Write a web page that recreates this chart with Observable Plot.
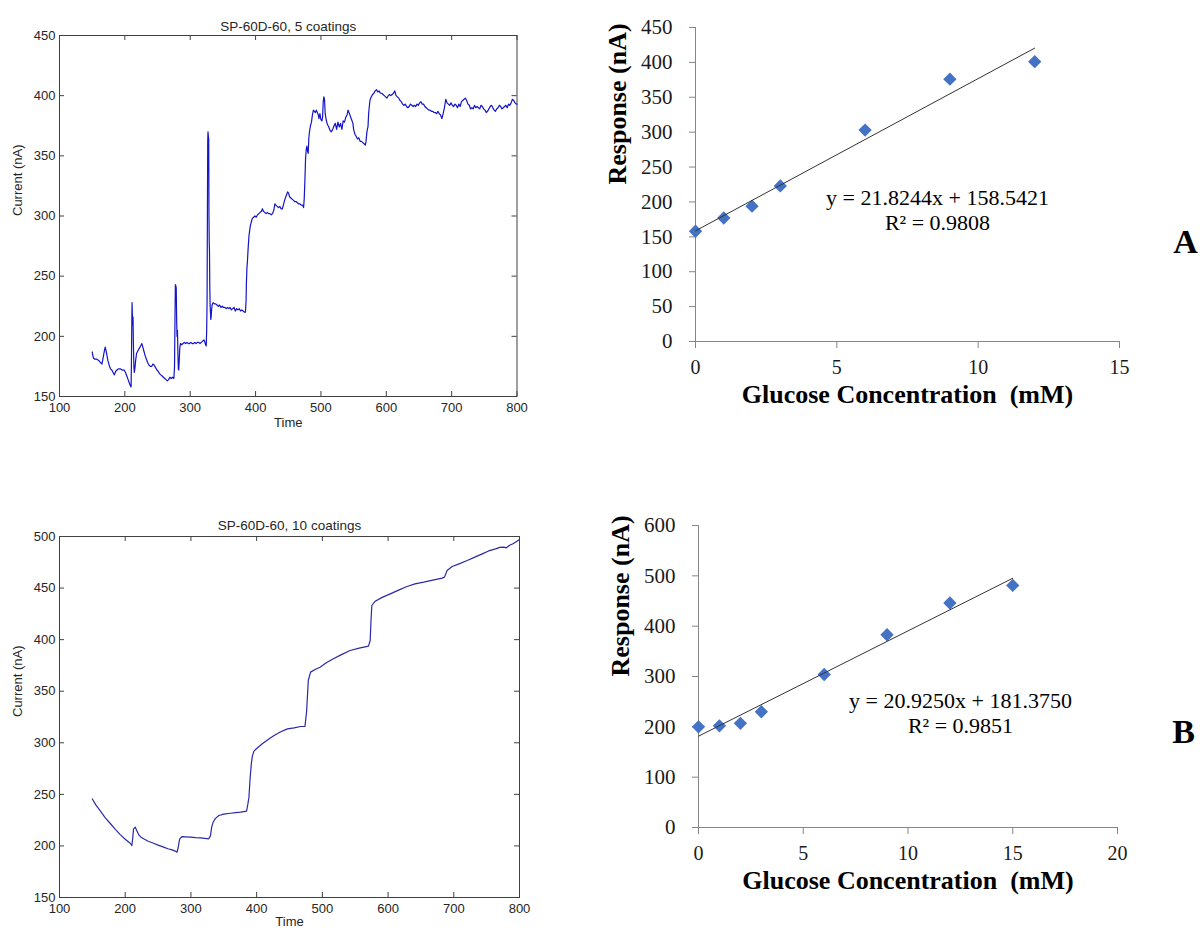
<!DOCTYPE html>
<html><head><meta charset="utf-8">
<script src="https://cdn.jsdelivr.net/npm/d3@7"></script>
<script src="https://cdn.jsdelivr.net/npm/@observablehq/plot@0.6"></script>
<style>
body{margin:0;background:#fff;}
#page{position:relative;width:1200px;height:931px;overflow:hidden;background:#fff}
.panel{position:absolute}
</style></head><body><div id="page"></div>
<script>
// ---------- DATA ----------
const timeTicks = [100,200,300,400,500,600,700,800];
const yTicks5 = [150,200,250,300,350,400,450];
const yTicks10 = [150,200,250,300,350,400,450,500];
const title5 = "SP-60D-60, 5 coatings";
const title10 = "SP-60D-60, 10 coatings";

// [time, current nA] — 5 coatings
const series5 = [[150,187],[151,184],[152,182],[154,181],[157,181],[160,180],[163,178],[165,177],[167,183],[169,189],[170,191],[172,186],[174,180],[176,176],[178,173],[180,172],[182,170],[184,168],[186,171],[188,172],[190,173],[193,173],[196,172],[199,172],[201,170],[203,167],[205,164],[207,161],[208.5,159],[209.5,158],[210,175],[210.5,205],[211,228],[211.5,218],[212,210],[212.5,216],[213,195],[213.8,175],[214.5,170],[215.5,174],[216.5,180],[218,186],[220,188],[222,190],[224,192],[226,194],[227,192],[229,188],[231,184],[233,181],[235,178],[237,176],[239,175],[241,175],[243,177],[245,176],[247,174],[249,172],[251,171],[253,169],[255,168],[257,167],[259,166],[261,165],[263,164],[265,163],[267,164],[269,166],[271,165],[273,166],[275,165],[276,175],[276.8,220],[277.3,243],[278,242],[278.6,240],[279.2,215],[279.8,200],[280.5,205],[281.2,185],[281.8,173],[282.5,172],[283.2,180],[284,190],[285,194],[287,193],[289,194],[291,195],[293,194],[295,195],[297,194],[299,194],[301,195],[303,194],[305,194],[307,195],[309,194],[311,195],[313,195],[315,194],[317,195],[319,196],[321,197],[322.5,195],[323.5,193],[324.5,192],[325.2,205],[325.8,230],[326.3,300],[326.8,362],[327.2,370],[327.8,366],[328.3,364],[328.7,300],[329.1,278],[329.5,270],[330,240],[330.5,225],[331,220],[331.5,214],[332,216],[332.7,222],[333.5,226],[335,228],[337,227],[339,227],[341,226],[343,225],[345,226],[347,224],[349,225],[351,224],[353,224],[355,223],[357,224],[359,223],[361,224],[363,222],[365,223],[367,224],[369,221],[371,223],[373,222],[375,223],[377,221],[379,222],[381,221],[383,220],[384.5,220],[385.5,230],[386,245],[386.8,257],[387.5,262],[388.3,270],[389.2,278],[390,284],[391,288],[392,292],[393.5,295],[395,298],[397,299],[399,300],[401,299],[403,301],[405,302],[407,303],[409,304],[410.5,306],[412,304],[414,303],[416,302],[418,303],[420,302],[422,302],[424,301],[426,302],[428,305],[429.5,310],[431,309],[433,308],[435,307],[437,308],[439,306],[441,306],[443,310],[445,314],[447,317],[449,320],[450.5,319],[452,316],[454,315],[456,314],[458,313],[460,312],[462,312],[464,311],[466,310],[468,310],[470,309],[472,309],[473.5,307],[474.5,315],[475.5,330],[476.5,348],[477.5,355],[478.5,358],[479.5,354],[480.5,352],[481.5,365],[482.5,370],[484,375],[485.5,378],[487,384],[488.5,388],[490,387],[491.5,386],[493,388],[494.5,386],[496,384],[497,381],[498.5,385],[500,380],[501.5,379],[502.5,382],[503.5,395],[504.5,399],[505.5,397],[506.5,385],[508,380],[510,376],[512,374],[514,371],[516,370],[518,372],[520,375],[522,377],[524,372],[526,378],[528,374],[530,377],[532,372],[534,379],[536,378],[538,382],[540,384],[541.5,388],[543,386],[545,383],[547,380],[549,377],[550,372],[552,368],[554,366],[556,364],[558,365],[560,362],[562,362],[564,361],[566,360],[568,359],[569,362],[570,368],[571,372],[572,374],[573,385],[574,391],[575,396],[577,399],[579,401],[581,402],[583,404],[585,405],[587,403],[589,404],[591,402],[593,402],[595,401],[597,400],[599,399],[601,398],[603,400],[605,401],[607,400],[609,401],[611,402],[613,404],[615,400],[617,399],[619,398],[621,396],[623,395],[625,393],[627,392],[629,393],[631,391],[633,390],[635,391],[637,393],[639,392],[641,391],[643,392],[645,391],[647,393],[649,392],[651,394],[653,395],[655,393],[657,393],[659,391],[661,390],[663,389],[665,388],[667,388],[669,387],[671,387],[673,386],[675,386],[677,385],[679,387],[681,385],[683,384],[685,381],[687,385],[689,390],[691,397],[693,394],[695,393],[697,392],[699,394],[701,392],[703,391],[705,393],[707,392],[709,390],[711,393],[713,391],[715,395],[717,396],[719,397],[721,398],[723,396],[725,393],[727,392],[729,389],[731,390],[733,389],[735,392],[737,390],[739,391],[741,390],[743,389],[745,392],[747,391],[749,389],[751,388],[753,386],[755,387],[757,389],[759,391],[761,392],[763,390],[765,388],[767,387],[769,389],[771,390],[773,392],[775,391],[777,389],[779,390],[781,391],[783,392],[785,390],[787,393],[789,392],[791,394],[793,397],[795,396],[797,394],[799,393],[800,393]];

// [time, current nA] — 10 coatings
const series10 = [[150,245.5],[155,240],[161.8,234.3],[170,227],[177,222],[185,216],[192.4,211],[200,206.5],[207.6,202.6],[210.2,200.4],[211.5,208],[212.7,216.6],[215.3,218.2],[217.5,215],[220.4,211],[224,208.5],[228,206.9],[235,204.5],[243.3,202.6],[250,200.8],[258.5,198.8],[265,197.3],[271.3,196.2],[276,195],[278.9,194],[280.5,198],[282,204],[283,206.9],[286.5,209.1],[292,208.8],[299.2,208.5],[307,208],[314.5,207.8],[321,207.3],[327.2,206.9],[329.8,210],[331.5,218],[333.8,223],[337,226.5],[342.5,229.5],[350,230.8],[360.3,231.7],[368,232.2],[375.6,232.7],[384.7,233.7],[386.5,240],[388.3,247.3],[390,265],[391.9,279.6],[393.5,287],[395.9,291.9],[400,294.5],[408.6,299],[417,303],[426.5,307],[436,310.5],[446.8,313.5],[457,314.5],[467,315.8],[473.5,315.8],[476,330],[478.6,360.4],[482,368.5],[489,371],[496.4,373.3],[506,377.5],[516.8,381.4],[529,385.5],[542.2,389.5],[556,391.8],[570.2,393.7],[572.8,399.2],[574,418],[575.3,433.1],[580.4,437.3],[591,441],[603.3,444.4],[616,448],[628.8,451.5],[641,454],[654.2,455.7],[668,457.7],[682.2,459.6],[685.8,460.6],[689.8,467],[697.5,470.9],[708,473.5],[720.4,476.7],[732,480],[743.3,483.2],[753,486],[763.6,488],[770,489.5],[776.3,489.7],[780,489],[785,491.5],[790,493],[795,495],[800,497]];

// Calibration panels
const concA = [0,1,2,3,6,9,12];
const respA = [158,177,194,223,303,376,401];
const slopeA = 21.8244, interceptA = 158.5421;
const eqA = "y = 21.8244x + 158.5421", r2A = "R² = 0.9808";
const xTicksA = [0,5,10,15];
const yTicksA = [0,50,100,150,200,250,300,350,400,450];

const concB = [0,1,2,3,6,9,12,15];
const respB = [200,202,207,230,304,383,446,481];
const slopeB = 20.9250, interceptB = 181.3750;
const eqB = "y = 20.9250x + 181.3750", r2B = "R² = 0.9851";
const xTicksB = [0,5,10,15,20];
const yTicksB = [0,100,200,300,400,500,600];

// ---------- DRAWING ----------
const page = document.getElementById("page");
function place(el, left, top){
  const d = document.createElement("div");
  d.className = "panel"; d.style.left = left + "px"; d.style.top = top + "px";
  d.appendChild(el); page.appendChild(d);
}

function matlabPanel({series, title, yDomain, yTicks, width, height, mt, mr, mb, ml, color, titleDy, timeDy}) {
  const innerH = height - mt - mb, innerW = width - ml - mr;
  const ink = "#404040";
  return Plot.plot({
    width, height, marginTop: mt, marginRight: mr, marginBottom: mb, marginLeft: ml,
    style: {fontFamily: "'Liberation Sans', Arial, sans-serif", fontSize: "13px", background: "white", color: "#262626", overflow: "visible"},
    x: {domain: [100, 800]},
    y: {domain: yDomain},
    marks: [
      Plot.ruleX(timeTicks, {x: d => d, insetTop: innerH - 5, stroke: ink}),
      Plot.ruleX(timeTicks, {x: d => d, insetBottom: innerH - 5, stroke: ink}),
      Plot.ruleY(yTicks, {y: d => d, insetRight: innerW - 5, stroke: ink}),
      Plot.ruleY(yTicks, {y: d => d, insetLeft: innerW - 5, stroke: ink}),
      Plot.frame({stroke: ink}),
      Plot.axisX({ticks: timeTicks, tickSize: 0, tickPadding: 6, label: null, fill: "#262626"}),
      Plot.axisY({ticks: yTicks, tickSize: 0, tickPadding: 4, label: null, fill: "#262626"}),
      Plot.line(series, {x: d => d[0], y: d => d[1], stroke: color, strokeWidth: 1.2}),
      Plot.text([title], {frameAnchor: "top", dy: titleDy, text: d => d, fontSize: 13.5}),
      Plot.text(["Time"], {frameAnchor: "bottom", dy: timeDy, text: d => d}),
      Plot.text(["Current (nA)"], {frameAnchor: "left", dx: -42, rotate: -90, text: d => d})
    ]
  });
}

function excelPanel({xs, ys, slope, intercept, eq, r2, letter, xTicks, yTicks, width, height, mt, mr, mb, ml, eqDx, eqDy, letDx, letDy}) {
  const pts = xs.map((x, i) => ({x, y: ys[i]}));
  const x0 = d3.min(xs), x1 = d3.max(xs);
  const trend = [x0, x1].map(x => ({x, y: slope * x + intercept}));
  const axisGray = "#868686";
  return Plot.plot({
    width, height, marginTop: mt, marginRight: mr, marginBottom: mb, marginLeft: ml,
    style: {fontFamily: "'Liberation Serif', 'Times New Roman', serif", fontSize: "20px", background: "white", color: "black", overflow: "visible"},
    x: {domain: [xTicks[0], xTicks[xTicks.length - 1]]},
    y: {domain: [yTicks[0], yTicks[yTicks.length - 1]]},
    marks: [
      Plot.ruleY([yTicks[0]], {stroke: axisGray}),
      Plot.ruleX([xTicks[0]], {stroke: axisGray}),
      Plot.axisX({ticks: xTicks, tickSize: 7, tickPadding: 11, stroke: axisGray, fill: "#1a1a1a", label: null, fontSize: 20}),
      Plot.axisY({ticks: yTicks, tickSize: 6, tickPadding: 17, stroke: axisGray, fill: "#1a1a1a", label: null, fontSize: 21}),
      Plot.dot(pts, {x: "x", y: "y", symbol: "diamond2", r: 6, fill: "#4472C4", stroke: "none"}),
      Plot.line(trend, {x: "x", y: "y", stroke: "#333", strokeWidth: 1}),
      Plot.text([eq], {frameAnchor: "top-left", textAnchor: "middle", dx: eqDx, dy: eqDy, text: d => d, fontSize: 22}),
      Plot.text([r2], {frameAnchor: "top-left", textAnchor: "middle", dx: eqDx, dy: eqDy + 24.5, text: d => d, fontSize: 22}),
      Plot.text([letter], {frameAnchor: "top-left", textAnchor: "middle", dx: letDx, dy: letDy, text: d => d, fontSize: 34, fontWeight: "bold"}),
      Plot.text(["Glucose Concentration  (mM)"], {frameAnchor: "bottom", dy: 61, text: d => d, fontSize: 26, fontWeight: "bold"}),
      Plot.text(["Response (nA)"], {frameAnchor: "left", dx: -78, rotate: -90, text: d => d, fontSize: 26, fontWeight: "bold"})
    ]
  });
}

place(matlabPanel({series: series5, title: title5, yDomain: [150, 450], yTicks: yTicks5,
  width: 540, height: 450, mt: 35, mr: 23.5, mb: 54, ml: 59, color: "#1414c8", titleDy: -14, timeDy: 30}), 0, 0);

place(matlabPanel({series: series10, title: title10, yDomain: [150, 500], yTicks: yTicks10,
  width: 540, height: 471, mt: 76, mr: 21, mb: 34, ml: 59, color: "#2a2aa8", titleDy: -16, timeDy: 28}), 0, 460);

place(excelPanel({xs: concA, ys: respA, slope: slopeA, intercept: interceptA, eq: eqA, r2: r2A, letter: "A",
  xTicks: xTicksA, yTicks: yTicksA, width: 620, height: 430, mt: 27, mr: 81, mb: 89, ml: 115,
  eqDx: 242, eqDy: 162, letDx: 490, letDy: 201}), 580, 0);

place(excelPanel({xs: concB, ys: respB, slope: slopeB, intercept: interceptB, eq: eqB, r2: r2B, letter: "B",
  xTicks: xTicksB, yTicks: yTicksB, width: 620, height: 451, mt: 45, mr: 83, mb: 104, ml: 118,
  eqDx: 262, eqDy: 167, letDx: 485, letDy: 193}), 580, 480);
</script></body></html>
